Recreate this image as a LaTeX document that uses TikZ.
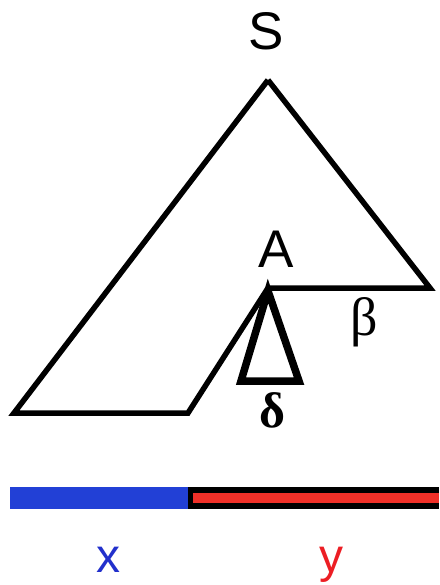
\documentclass[tikz,border=0pt]{standalone}
\usepackage{fontspec}
\setmainfont{Liberation Sans}
\newfontfamily\grk{Liberation Serif}
\begin{document}
\begin{tikzpicture}[x=1pt,y=-1pt,
  lbl/.style={inner sep=0pt, anchor=base, font=\fontsize{53}{56}\selectfont},
  small/.style={inner sep=0pt, anchor=base, font=\fontsize{48}{52}\selectfont},
  glbl/.style={inner sep=0pt, anchor=base, font=\grk\fontsize{54}{58}\selectfont},
  tree/.style={line width=5.5pt, line join=miter},
  sub/.style={line width=7.5pt, line join=miter}]
\useasboundingbox (0,0) rectangle (439,585);
\coordinate (top) at (268,80);
\coordinate (bl) at (14,413);
\coordinate (bm) at (188,413);
\coordinate (a) at (268,288);
\coordinate (ar) at (270,288);
\coordinate (r) at (430,288);
\draw[tree] (top) -- (bl) -- (bm) -- (a);
\draw[tree] (top) -- (r) -- (ar);
\coordinate (sa) at (268,291);
\coordinate (sl) at (241,381);
\coordinate (sr) at (299,381);
\draw[sub] (sa) -- (sl) -- (sr) -- cycle;
\node[lbl] (S) at (266,50) {S};
\node[lbl] (A) at (276,267) {A};
\node[glbl] (beta) at (364,335) {β};
\node[glbl, font=\grk\bfseries\fontsize{50}{54}\selectfont] (delta) at (272,427) {δ};
% bar
\fill[fill={rgb,255:red,34;green,64;blue,214}] (10,487) rectangle (188,509);
\fill[black] (188,487) rectangle (439,509);
\fill[fill={rgb,255:red,240;green,48;blue,40}] (193,493) rectangle (439,503);
\node[small, text={rgb,255:red,34;green,48;blue,204}] (x) at (108,572) {x};
\node[small, text={rgb,255:red,236;green,30;blue,36}] (y) at (331,572) {y};
\end{tikzpicture}
\end{document}
